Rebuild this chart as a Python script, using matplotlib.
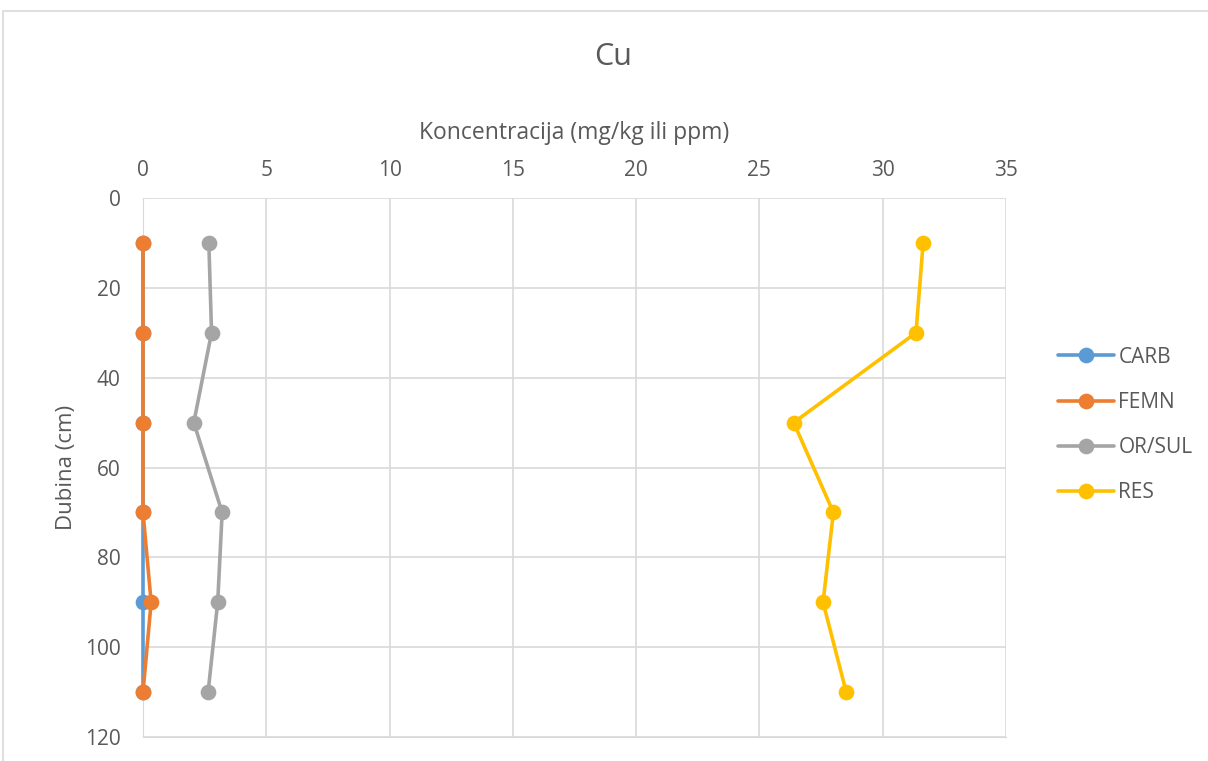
import numpy as np
import matplotlib.pyplot as plt
from matplotlib.patches import Rectangle

dubina = [10, 30, 50, 70, 90, 110]
carb = [0, 0, 0, 0, 0, 0]
femn = [0, 0, 0, 0, 0.33, 0]
orsul = [2.67, 2.78, 2.06, 3.21, 3.03, 2.64]
res = [31.64, 31.35, 26.39, 28.0, 27.58, 28.52]

series = [('CARB', carb, '#5b9bd5'),
          ('FEMN', femn, '#ed7d31'),
          ('OR/SUL', orsul, '#a5a5a5'),
          ('RES', res, '#ffc000')]

plt.rcParams['font.family'] = ['Open Sans', 'DejaVu Sans']
txt = '#595959'

fig = plt.figure(figsize=(12.08, 7.61), dpi=100)
ax = fig.add_axes([143/1208, 1 - 737/761, (1006 - 143)/1208, (737 - 198)/761])

for name, vals, col in series:
    ax.plot(vals, dubina, color=col, lw=2.6, marker='o', markersize=10.3,
            label=name, solid_capstyle='round', clip_on=False, zorder=3)

ax.set_xlim(0, 35)
ax.set_ylim(120, 0)
ax.set_xticks(np.arange(0, 36, 5))
ax.set_yticks(np.arange(0, 121, 20))
ax.xaxis.tick_top()
ax.xaxis.set_label_position('top')
ax.grid(True, color='#d9d9d9', lw=1.2)
ax.set_axisbelow(True)
for s in ['top', 'right']:
    ax.spines[s].set_visible(False)
ax.spines['left'].set_color('#d9d9d9')
ax.spines['bottom'].set_color('#d9d9d9')
ax.tick_params(length=0, labelsize=15, colors=txt)
ax.tick_params(axis='x', pad=12)
ax.tick_params(axis='y', pad=16)
ax.set_xlabel('Koncentracija (mg/kg ili ppm)', fontsize=16.5, color=txt, labelpad=15)
ax.set_ylabel('Dubina (cm)', fontsize=16, color=txt, labelpad=6)
fig.text(613/1208, 1 - 57/761, 'Cu', fontsize=22, color=txt, ha='center', va='center')

ax.legend(loc='center left', bbox_to_anchor=(1058/1208, 1 - 425/761),
          bbox_transform=fig.transFigure, frameon=False, fontsize=15,
          labelcolor=txt, handlelength=2.7, labelspacing=1.16, handletextpad=0.2,
          borderpad=0, borderaxespad=0)

fig.patches.append(Rectangle((3/1208, -0.1), 1.2, 1 - 10.5/761 + 0.1,
                             transform=fig.transFigure, fill=False,
                             edgecolor='#d9d9d9', lw=1.2))

fig.savefig('out.png', dpi=100)
